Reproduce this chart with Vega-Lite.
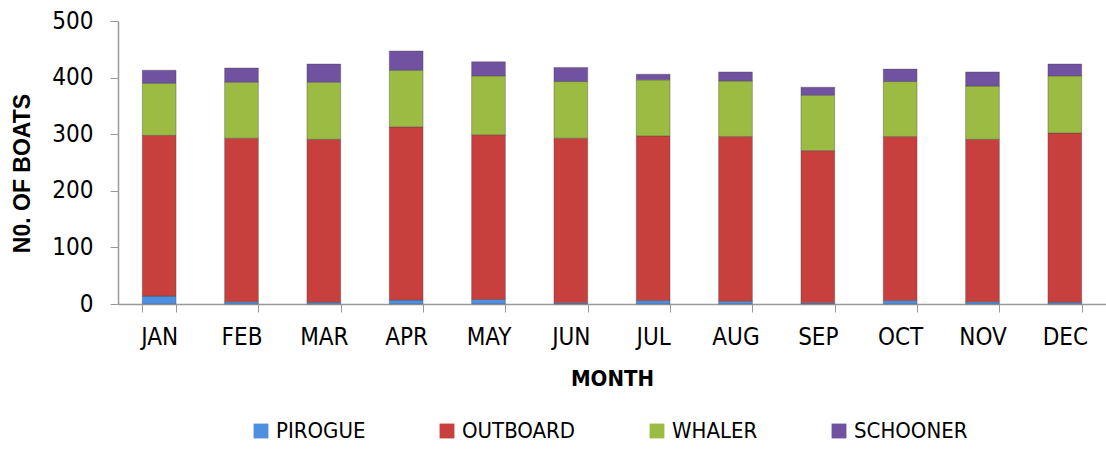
{
  "$schema": "https://vega.github.io/schema/vega-lite/v6.json",
  "autosize": "none",
  "width": 988,
  "height": 283,
  "padding": {"left": 118, "top": 21, "right": 0, "bottom": 147},
  "background": "white",
  "data": {
    "values": [
      {"month": "JAN", "type": "PIROGUE", "boats": 14},
      {"month": "JAN", "type": "OUTBOARD", "boats": 284},
      {"month": "JAN", "type": "WHALER", "boats": 92},
      {"month": "JAN", "type": "SCHOONER", "boats": 23},
      {"month": "FEB", "type": "PIROGUE", "boats": 4},
      {"month": "FEB", "type": "OUTBOARD", "boats": 289},
      {"month": "FEB", "type": "WHALER", "boats": 99},
      {"month": "FEB", "type": "SCHOONER", "boats": 25},
      {"month": "MAR", "type": "PIROGUE", "boats": 3},
      {"month": "MAR", "type": "OUTBOARD", "boats": 288},
      {"month": "MAR", "type": "WHALER", "boats": 101},
      {"month": "MAR", "type": "SCHOONER", "boats": 32},
      {"month": "APR", "type": "PIROGUE", "boats": 7},
      {"month": "APR", "type": "OUTBOARD", "boats": 306},
      {"month": "APR", "type": "WHALER", "boats": 100},
      {"month": "APR", "type": "SCHOONER", "boats": 34},
      {"month": "MAY", "type": "PIROGUE", "boats": 8},
      {"month": "MAY", "type": "OUTBOARD", "boats": 291},
      {"month": "MAY", "type": "WHALER", "boats": 104},
      {"month": "MAY", "type": "SCHOONER", "boats": 25},
      {"month": "JUN", "type": "PIROGUE", "boats": 2},
      {"month": "JUN", "type": "OUTBOARD", "boats": 291},
      {"month": "JUN", "type": "WHALER", "boats": 100},
      {"month": "JUN", "type": "SCHOONER", "boats": 25},
      {"month": "JUL", "type": "PIROGUE", "boats": 6},
      {"month": "JUL", "type": "OUTBOARD", "boats": 291},
      {"month": "JUL", "type": "WHALER", "boats": 99},
      {"month": "JUL", "type": "SCHOONER", "boats": 10},
      {"month": "AUG", "type": "PIROGUE", "boats": 5},
      {"month": "AUG", "type": "OUTBOARD", "boats": 291},
      {"month": "AUG", "type": "WHALER", "boats": 98},
      {"month": "AUG", "type": "SCHOONER", "boats": 16},
      {"month": "SEP", "type": "PIROGUE", "boats": 2},
      {"month": "SEP", "type": "OUTBOARD", "boats": 269},
      {"month": "SEP", "type": "WHALER", "boats": 98},
      {"month": "SEP", "type": "SCHOONER", "boats": 14},
      {"month": "OCT", "type": "PIROGUE", "boats": 6},
      {"month": "OCT", "type": "OUTBOARD", "boats": 290},
      {"month": "OCT", "type": "WHALER", "boats": 97},
      {"month": "OCT", "type": "SCHOONER", "boats": 22},
      {"month": "NOV", "type": "PIROGUE", "boats": 4},
      {"month": "NOV", "type": "OUTBOARD", "boats": 287},
      {"month": "NOV", "type": "WHALER", "boats": 94},
      {"month": "NOV", "type": "SCHOONER", "boats": 25},
      {"month": "DEC", "type": "PIROGUE", "boats": 3},
      {"month": "DEC", "type": "OUTBOARD", "boats": 299},
      {"month": "DEC", "type": "WHALER", "boats": 101},
      {"month": "DEC", "type": "SCHOONER", "boats": 21}
    ]
  },
  "transform": [
    {"calculate": "indexof(['PIROGUE','OUTBOARD','WHALER','SCHOONER'], datum.type)", "as": "ord"}
  ],
  "mark": {"type": "bar", "stroke": "#444444", "strokeWidth": 0.6, "strokeOpacity": 0.6},
  "encoding": {
    "x": {
      "field": "month",
      "type": "nominal",
      "sort": ["JAN","FEB","MAR","APR","MAY","JUN","JUL","AUG","SEP","OCT","NOV","DEC"],
      "scale": {"paddingInner": 0.59, "paddingOuter": 0.295},
      "axis": {
        "title": "MONTH",
        "titleFont": "DejaVu Sans Condensed, Liberation Sans",
        "titleFontSize": 22,
        "titleFontWeight": "bold",
        "titleColor": "#000000",
        "titleY": 74,
        "titleBaseline": "middle",
        "labelFont": "DejaVu Sans Condensed, Liberation Sans",
        "labelFontSize": 24,
        "labelColor": "#000000",
        "labelAngle": 0,
        "labelPadding": 13,
        "tickBand": "extent",
        "tickSize": 8,
        "tickColor": "#999999",
        "domainColor": "#999999",
        "domainWidth": 1.5
      }
    },
    "y": {
      "field": "boats",
      "type": "quantitative",
      "stack": "zero",
      "scale": {"domain": [0, 500]},
      "axis": {
        "title": "N0. OF BOATS",
        "titleFont": "Liberation Sans",
        "titleFontSize": 23,
        "titleFontWeight": "bold",
        "titleColor": "#000000",
        "titleX": -96,
        "titleY": 152,
        "titleAngle": -90,
        "titleAlign": "center",
        "titleBaseline": "middle",
        "labelFont": "DejaVu Sans Condensed, Liberation Sans",
        "labelFontSize": 24,
        "labelColor": "#000000",
        "labelPadding": 17,
        "values": [0, 100, 200, 300, 400, 500],
        "grid": false,
        "tickSize": 8,
        "tickColor": "#999999",
        "domainColor": "#999999",
        "domainWidth": 1.5
      }
    },
    "color": {
      "field": "type",
      "type": "nominal",
      "scale": {
        "domain": ["PIROGUE", "OUTBOARD", "WHALER", "SCHOONER"],
        "range": ["#4F8FE0", "#C8403E", "#9BBB42", "#7052A0"]
      },
      "legend": {
        "title": null,
        "orient": "none",
        "direction": "horizontal",
        "legendX": 132,
        "legendY": 399,
        "columns": 4,
        "columnPadding": 70,
        "symbolType": "square",
        "symbolSize": 220,
        "symbolStrokeWidth": 0,
        "labelFont": "DejaVu Sans Condensed, Liberation Sans",
        "labelFontSize": 22,
        "labelColor": "#000000",
        "labelOffset": 4
      }
    },
    "order": {"field": "ord", "type": "quantitative", "sort": "ascending"}
  },
  "config": {"view": {"stroke": null}}
}
